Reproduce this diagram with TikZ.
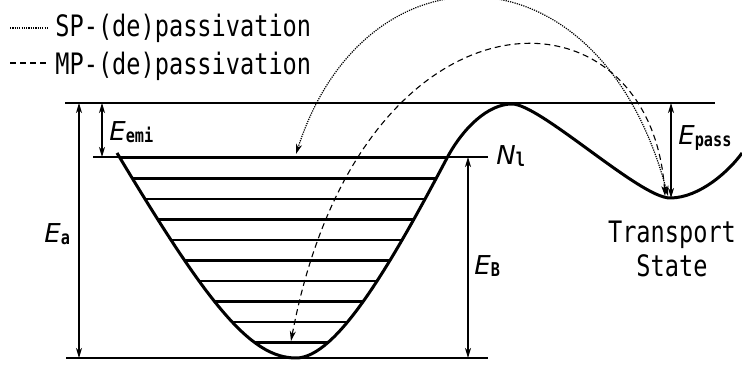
\documentclass[tikz,border=0pt]{standalone}
\usepackage{fontspec}
\setmainfont{DejaVu Sans Mono}[FakeStretch=0.8]
\newfontfamily\efont{DejaVu Sans}
\usetikzlibrary{arrows.meta}

\newcommand{\sublab}[1]{\raisebox{-1pt}{\fontsize{9.5}{10}\selectfont\bfseries #1}}
\newcommand{\Elab}[1]{{\efont\itshape E}\sublab{#1}}
% left well of the potential
\newcommand{\wellcurve}{(117,153) .. controls (207,303) and (250,358) .. (296,358)
  .. controls (336,358) and (389,268) .. (447,158)}

\begin{document}
\begin{tikzpicture}[x=0.5pt, y=-0.5pt, >={Stealth[length=5pt, width=3pt, inset=1.5pt]},
    thinline/.style={line width=0.6pt},
    potential/.style={line width=1.5pt, line join=round},
    level/.style={line width=1.15pt},
    dimarrow/.style={line width=0.55pt, <->},
    sppath/.style={line width=0.6pt, dash pattern=on 0.6pt off 0.55pt},
    mppath/.style={line width=0.55pt, dash pattern=on 3pt off 2pt},
    lab/.style={inner sep=0pt, font=\fontsize{13}{14}\selectfont},
    txt/.style={inner sep=0pt, font=\fontsize{14.75}{17}\selectfont}]
  \useasboundingbox (0,0) rectangle (742,367);

  % legend
  \coordinate (spA) at (10,28);  \coordinate (spB) at (47,28);
  \coordinate (mpA) at (10,63);  \coordinate (mpB) at (47,63);
  \draw[sppath] (spA) -- (spB);
  \draw[mppath] (mpA) -- (mpB);
  \node[txt, anchor=base west] (splab) at (55,37) {SP-(de)passivation};
  \node[txt, anchor=base west] (mplab) at (55,75) {MP-(de)passivation};

  % reference energies
  \draw[thinline] (65,103) -- (715,103);
  \draw[thinline] (93,157) -- (488,157);
  \draw[thinline] (66,358) -- (488,358);

  % vibrational levels, cut at the well walls
  \begin{scope}
    \clip \wellcurve -- (447,140) -- (117,140) -- cycle;
    \foreach \y in {158,178.5,...,344}
      \draw[level] (100,\y) -- (460,\y);
  \end{scope}

  % potential energy curve
  \draw[potential] \wellcurve
    .. controls (463,128) and (488,104) .. (512,104)
    .. controls (540,104) and (640,198) .. (670,198)
    .. controls (700,198) and (730,170) .. (742,153);

  % dimension arrows
  \coordinate (eaTop) at (79,103);   \coordinate (eaBot) at (79,358);
  \coordinate (emTop) at (102,103);  \coordinate (emBot) at (102,157);
  \coordinate (ebTop) at (468,157);  \coordinate (ebBot) at (468,358);
  \coordinate (epTop) at (671,103);  \coordinate (epBot) at (671,198);
  \draw[dimarrow] (eaTop) -- (eaBot);
  \draw[dimarrow] (emTop) -- (emBot);
  \draw[dimarrow] (ebTop) -- (ebBot);
  \draw[dimarrow] (epTop) -- (epBot);

  \node[lab, anchor=base west] (ea) at (44,243) {\Elab{a}};
  \node[lab, anchor=base west] (emi) at (109,141) {\Elab{emi}};
  \node[lab, anchor=base west] (eb) at (474,275) {\Elab{B}};
  \node[lab, anchor=base west] (epass) at (678,145) {\Elab{pass}};
  \node[lab, anchor=base west] (nl) at (496,165) {{\efont\itshape N}\sublab{l}};
  \node[txt, align=center, anchor=north] (trans) at (672,221) {Transport\\State};

  % (de)passivation paths
  \coordinate (spTop) at (296,154);  \coordinate (spEnd) at (668,196);
  \coordinate (mpBot) at (291,341);  \coordinate (mpEnd) at (665,196);
  \draw[sppath, <->] (spTop) .. controls (365,-60) and (600,-60) .. (spEnd);
  \draw[mppath, <->] (mpBot) .. controls (360,-25) and (650,-25) .. (mpEnd);
\end{tikzpicture}
\end{document}
